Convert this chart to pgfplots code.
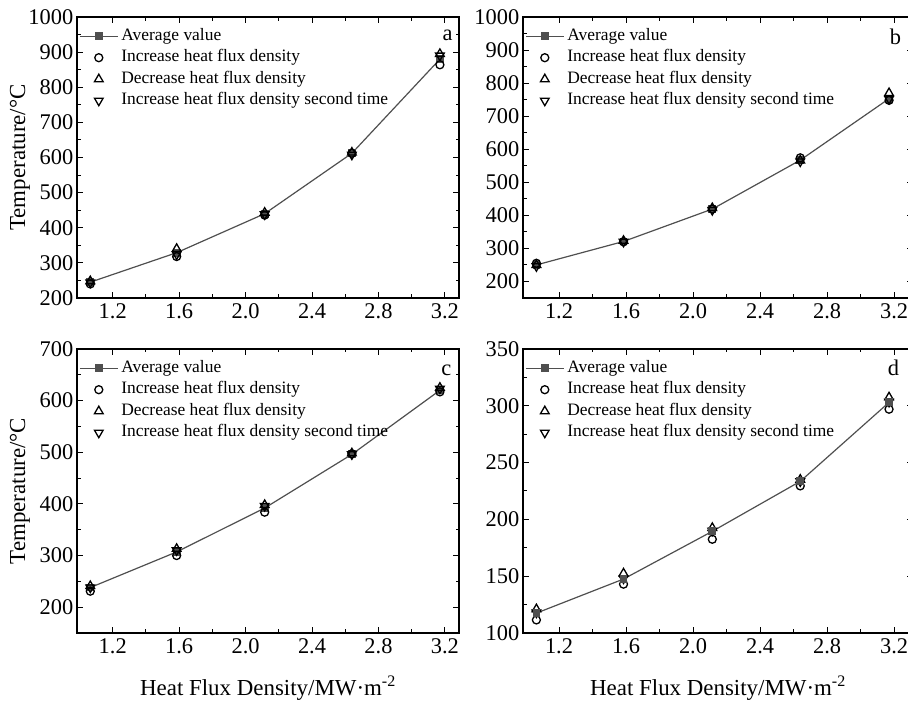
\documentclass[border=0pt]{standalone}
\usepackage{fontspec}
\setmainfont{Liberation Serif}
\usepackage{pgfplots}
\pgfplotsset{compat=1.18}

\definecolor{avgc}{HTML}{4F4F4F}

\tikzset{panel letter/.style={font=\fontsize{22.5}{25}\selectfont}}

\pgfplotsset{
  panel/.style={
    scale only axis, width=382bp,
    anchor=south west,
    xmin=0.985, xmax=3.285,
    xtick={1.2,1.6,...,3.2},
    minor x tick num=1, minor y tick num=1,
    axis line style={line width=1.1bp},
    every tick/.style={black, line width=1bp},
    major tick length=6bp, minor tick length=3.5bp,
    tick align=inside,
    /pgf/number format/assume math mode=true,
    /pgf/number format/1000 sep={},
    xticklabel style={/pgf/number format/fixed, /pgf/number format/precision=1,
      /pgf/number format/fixed zerofill, font=\fontsize{22.5}{25}\selectfont, inner sep=5bp},
    yticklabel style={font=\fontsize{22.5}{25}\selectfont, inner sep=3.5bp},
    every axis y label/.style={at={(axis description cs:0,0.5)}, xshift=-57bp,
      rotate=90, anchor=center, font=\fontsize{23}{26}\selectfont},
    every axis x label/.style={at={(axis description cs:0.5,0)}, yshift=-55bp,
      anchor=center, font=\fontsize{23}{26}\selectfont},
    legend style={at={(axis description cs:0,1)}, anchor=north west,
      xshift=2bp, yshift=-11bp, draw=none, fill=none, inner sep=0pt,
      row sep=5.5bp, column sep=3bp,
      font=\fontsize{17.5}{20}\selectfont,
      nodes={inner sep=0pt, text height=12bp, text depth=4bp}},
    legend cell align=left,
    legend image code/.code={
      \draw[mark repeat=2, mark phase=2, #1] plot coordinates {(0bp,0bp) (19bp,0bp) (38bp,0bp)};},
  },
  right panel/.style={width=390bp, xmax=3.313},
  avg/.style={color=avgc, line width=1.2bp, mark=square*,
    mark size=3.3bp, mark options={fill=avgc, draw=avgc}},
  inc/.style={only marks, black, mark=o, mark size=4bp, mark options={line width=1.3bp}},
  dec/.style={only marks, black, mark=triangle, mark size=5bp, mark options={line width=1.3bp}},
  inc2/.style={only marks, black, mark=triangle, mark size=5bp,
    mark options={rotate=180, line width=1.3bp}},
}

\begin{document}
\begin{tikzpicture}
\useasboundingbox (0,0) rectangle (908bp,701bp);

% ---- a ----
\begin{axis}[panel, at={(77bp,403bp)}, height=281bp,
  ymin=200, ymax=1000, ytick={200,300,...,1000},
  ylabel={Temperature/°C}]
  \addplot[avg] coordinates {(1.065,245) (1.585,329) (2.115,440) (2.64,612) (3.17,880)};
  \addplot[inc] coordinates {(1.065,240) (1.585,318) (2.115,436) (2.64,612) (3.17,864)};
  \addplot[dec] coordinates {(1.065,248) (1.585,340) (2.115,443) (2.64,614) (3.17,895)};
  \addplot[inc2] coordinates {(1.065,244) (1.585,324) (2.115,438) (2.64,608) (3.17,890)};
  \legend{Average value, Increase heat flux density, Decrease heat flux density,
    Increase heat flux density second time}
  \node[panel letter] at (axis description cs:0.97,0.935) {a};
\end{axis}

% ---- b ----
\begin{axis}[panel, right panel, at={(523bp,403bp)}, height=281bp,
  ymin=150, ymax=1000, ytick={200,300,...,1000}]
  \addplot[avg] coordinates {(1.065,250) (1.585,321) (2.115,419) (2.64,567) (3.17,753)};
  \addplot[inc] coordinates {(1.065,255) (1.585,320) (2.115,419) (2.64,574) (3.17,748)};
  \addplot[dec] coordinates {(1.065,250) (1.585,323) (2.115,422) (2.64,566) (3.17,770)};
  \addplot[inc2] coordinates {(1.065,246) (1.585,320) (2.115,416) (2.64,563) (3.17,752)};
  \legend{Average value, Increase heat flux density, Decrease heat flux density,
    Increase heat flux density second time}
  \node[panel letter] at (axis description cs:0.955,0.93) {b};
\end{axis}

% ---- c ----
\begin{axis}[panel, at={(77bp,68bp)}, height=284bp,
  ymin=150, ymax=700, ytick={200,300,...,700},
  ylabel={Temperature/°C},
  xlabel={Heat Flux Density/MW·m\textsuperscript{-2}}]
  \addplot[avg] coordinates {(1.065,238) (1.585,307) (2.115,392) (2.64,496) (3.17,620)};
  \addplot[inc] coordinates {(1.065,231) (1.585,300) (2.115,384) (2.64,497) (3.17,617)};
  \addplot[dec] coordinates {(1.065,241) (1.585,313) (2.115,398) (2.64,498) (3.17,625)};
  \addplot[inc2] coordinates {(1.065,238) (1.585,310) (2.115,396) (2.64,496) (3.17,623)};
  \legend{Average value, Increase heat flux density, Decrease heat flux density,
    Increase heat flux density second time}
  \node[panel letter] at (axis description cs:0.967,0.925) {c};
\end{axis}

% ---- d ----
\begin{axis}[panel, right panel, at={(523bp,68bp)}, height=284bp,
  ymin=100, ymax=350, ytick={100,150,...,350},
  xlabel={Heat Flux Density/MW·m\textsuperscript{-2}}]
  \addlegendimage{avg}
  \addlegendentry{Average value}
  \addplot[inc] coordinates {(1.065,111.5) (1.585,143) (2.115,182.5) (2.64,229.5) (3.17,297)};
  \addlegendentry{Increase heat flux density}
  \addplot[dec] coordinates {(1.065,121) (1.585,152.5) (2.115,192.5) (2.64,235) (3.17,307.5)};
  \addlegendentry{Decrease heat flux density}
  \addplot[inc2] coordinates {(1.065,118) (1.585,148) (2.115,190) (2.64,233.5) (3.17,303.5)};
  \addlegendentry{Increase heat flux density second time}
  \addplot[avg, forget plot] coordinates {(1.065,117.5) (1.585,147.5) (2.115,189.5) (2.64,233.5) (3.17,303)};
  \node[panel letter] at (axis description cs:0.95,0.935) {d};
\end{axis}
\end{tikzpicture}
\end{document}
